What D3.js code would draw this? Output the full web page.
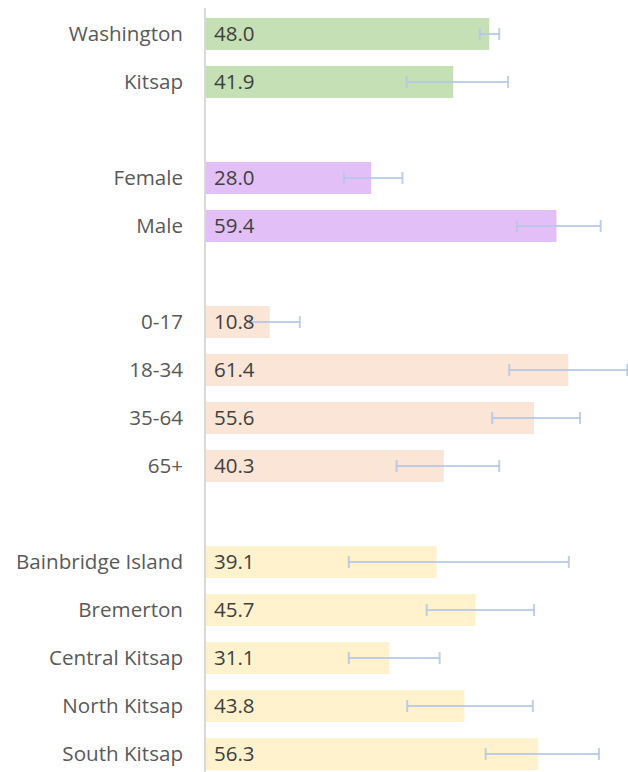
<!DOCTYPE html>
<html><head><meta charset="utf-8">
<script src="https://cdn.jsdelivr.net/npm/d3@7"></script>
<style>body{margin:0;background:#fff}svg{display:block}</style>
</head><body>
<script>
const categories = ["Washington","Kitsap","","Female","Male","","0-17","18-34","35-64","65+","","Bainbridge Island","Bremerton","Central Kitsap","North Kitsap","South Kitsap"];
const values = [48.0,41.9,null,28.0,59.4,null,10.8,61.4,55.6,40.3,null,39.1,45.7,31.1,43.8,56.3];
const lower  = [46.4,34.0,null,23.4,52.7,null,7.4,51.4,48.5,32.3,null,24.2,37.4,24.2,34.1,47.4];
const upper  = [49.7,51.2,null,33.3,66.9,null,15.9,71.4,63.4,49.7,null,61.5,55.6,39.6,55.4,66.6];
const groups = ["geo","geo",null,"sex","sex",null,"age","age","age","age",null,"region","region","region","region","region"];
const groupColors = {geo:"#c5e0b4", sex:"#e2c0f7", age:"#fbe5d6", region:"#fff2cc"};

const W=628,H=772;
const svg=d3.select("body").append("svg").attr("width",W).attr("height",H);
const x=d3.scaleLinear().domain([0,70]).range([206,206+70*5.9]);
const idx=categories.map((c,i)=>i);
const y=d3.scaleBand().domain(idx).range([10,778]).paddingInner(1/3).paddingOuter(1/6);

const data=idx.filter(i=>values[i]!==null).map(i=>({i,cat:categories[i],v:values[i],lo:lower[i],hi:upper[i],g:groups[i]}));

svg.selectAll("rect.bar").data(data).join("rect").attr("class","bar")
  .attr("x",x(0)).attr("y",d=>y(d.i)).attr("width",d=>x(d.v)-x(0)).attr("height",y.bandwidth())
  .attr("fill",d=>groupColors[d.g]);

// axis line
svg.append("line").attr("x1",205).attr("x2",205).attr("y1",8).attr("y2",H).attr("stroke","#d9d9d9").attr("stroke-width",2);

// error bars
const eb=svg.selectAll("g.eb").data(data).join("g").attr("class","eb")
  .attr("stroke","#b4c7e7").attr("stroke-width",2).attr("stroke-opacity",0.85);
eb.append("line").attr("x1",d=>x(d.lo)).attr("x2",d=>x(d.hi)).attr("y1",d=>y(d.i)+y.bandwidth()/2).attr("y2",d=>y(d.i)+y.bandwidth()/2);
eb.append("line").attr("x1",d=>x(d.lo)).attr("x2",d=>x(d.lo)).attr("y1",d=>y(d.i)+y.bandwidth()/2-6).attr("y2",d=>y(d.i)+y.bandwidth()/2+6);
eb.append("line").attr("x1",d=>x(d.hi)).attr("x2",d=>x(d.hi)).attr("y1",d=>y(d.i)+y.bandwidth()/2-6).attr("y2",d=>y(d.i)+y.bandwidth()/2+6);

const font="'Open Sans', 'Noto Sans', sans-serif";
// value labels
svg.selectAll("text.val").data(data).join("text").attr("class","val")
  .attr("x",214).attr("y",d=>y(d.i)+y.bandwidth()/2).attr("dy","0.34em")
  .attr("font-family",font).attr("font-size",20.5).attr("fill","#404040")
  .text(d=>d3.format(".1f")(d.v));

// category labels
svg.selectAll("text.cat").data(data).join("text").attr("class","cat")
  .attr("x",183).attr("y",d=>y(d.i)+y.bandwidth()/2).attr("dy","0.34em").attr("text-anchor","end")
  .attr("font-family",font).attr("font-size",20.6).attr("fill","#595959")
  .text(d=>d.cat);
</script>
</body></html>
